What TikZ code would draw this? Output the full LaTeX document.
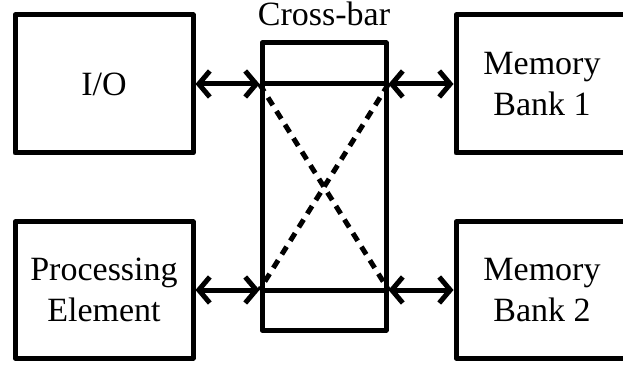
\documentclass[tikz,border=0pt]{standalone}
\usepackage{fontspec}
\setmainfont{Liberation Serif}
\usetikzlibrary{arrows.meta}
\begin{document}
\begin{tikzpicture}[x=1pt,y=1pt,
  blk/.style={draw, line width=5pt, line join=round, inner sep=0pt, align=center,
    font=\fontsize{34}{41}\selectfont},
  link/.style={line width=5pt, {Straight Barb[length=11pt,width=26pt]}-{Straight Barb[length=11pt,width=26pt]}},
  cross/.style={line width=5pt, dash pattern=on 9pt off 7pt}
]
\useasboundingbox (0,0) rectangle (623,364);
% processing side
\node[blk, minimum width=178pt, minimum height=138pt] (io) at (104,280) {I/O};
\node[blk, minimum width=178pt, minimum height=136pt] (pe) at (104,74) {Processing\\Element};
% memory banks
\node[blk, minimum width=172pt, minimum height=138pt] (mb1) at (542,280) {Memory\\Bank 1};
\node[blk, minimum width=172pt, minimum height=136pt] (mb2) at (542,74) {Memory\\Bank 2};
% cross-bar switch
\node[draw, line width=5pt, line join=round, inner sep=0pt,
  minimum width=124pt, minimum height=287pt] (xb) at (324,177.5) {};
\node[font=\fontsize{34}{40}\selectfont, anchor=base] (xbl) at (324,338) {Cross-bar};
% switch ports
\coordinate (pul) at (xb.west |- io.east);
\coordinate (pur) at (xb.east |- mb1.west);
\coordinate (pll) at (xb.west |- pe.east);
\coordinate (plr) at (xb.east |- mb2.west);
% buses through the switch
\draw[line width=5pt] (pul) -- (pur);
\draw[line width=5pt] (pll) -- (plr);
\draw[cross] (pul) -- (plr);
\draw[cross] (pur) -- (pll);
% links to the switch
\draw[link] (io.east) -- (pul);
\draw[link] (pe.east) -- (pll);
\draw[link] (pur) -- (mb1.west);
\draw[link] (plr) -- (mb2.west);
\end{tikzpicture}
\end{document}
